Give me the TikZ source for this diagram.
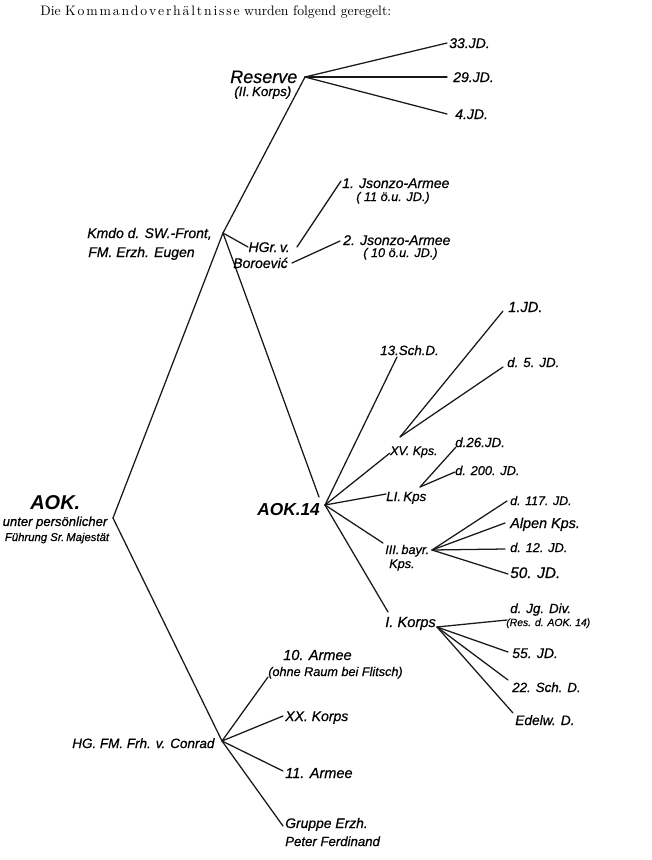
\documentclass[tikz,border=0pt]{standalone}
\usepackage{fontspec}
\newfontfamily\lett{Liberation Sans}[ItalicFeatures={FakeBold=0.6}]
\newcommand\myks{\kern1.35pt}
\tikzset{
  lb/.style={inner sep=0pt, anchor=base west, font=\lett\itshape\fontsize{#1}{#1}\selectfont},
  lbe/.style={inner sep=0pt, anchor=base east, font=\lett\itshape\fontsize{#1}{#1}\selectfont},
  lbc/.style={inner sep=0pt, anchor=base, font=\lett\itshape\fontsize{#1}{#1}\selectfont},
  bb/.style={inner sep=0pt, anchor=base west, font=\lett\bfseries\itshape\fontsize{#1}{#1}\selectfont},
  conn/.style={line width=0.95pt, line cap=round, draw=black!90},
}
\begin{document}
\begin{tikzpicture}[x=0.75pt,y=-0.75pt]
\useasboundingbox (0,0) rectangle (652,860);

% title
\node[inner sep=0pt, anchor=base west, font=\fontsize{10.3}{12}\selectfont] (title) at (40,15)
  {Die K\myks o\myks m\myks m\myks a\myks n\myks d\myks o\myks v\myks e\myks r\myks h\myks ä\myks l\myks t\myks n\myks i\myks s\myks s\myks e wurden folgend geregelt:};

% ---------- hubs and line ends ----------
\coordinate (aok) at (113,518);
\coordinate (kmdo) at (223,233);
\coordinate (res) at (305,77);
\coordinate (e33) at (447,43);
\coordinate (e29) at (447,77);
\coordinate (e4) at (447,114);
\coordinate (ehgr) at (248,247);
\coordinate (hgrA) at (297,247);
\coordinate (e1j) at (341,181);
\coordinate (hgrB) at (292,263);
\coordinate (e2j) at (340,241);
\coordinate (e14) at (319,497);
\coordinate (a14) at (325,505);
\coordinate (e13) at (397,357);
\coordinate (eXV) at (390,453);
\coordinate (eLI) at (386,494);
\coordinate (eIII) at (383,543);
\coordinate (eI) at (388,612);
\coordinate (xv) at (400,437);
\coordinate (e1jd) at (503,311);
\coordinate (e5jd) at (503,367);
\coordinate (li) at (420,487);
\coordinate (e26) at (456,447);
\coordinate (e200) at (455,472);
\coordinate (iii) at (432,550);
\coordinate (e117) at (507,501);
\coordinate (ealp) at (505,523);
\coordinate (e12) at (505,549);
\coordinate (e50) at (508,574);
\coordinate (ik) at (437,627);
\coordinate (ejg) at (507,620);
\coordinate (e55) at (508,652);
\coordinate (e22) at (508,680);
\coordinate (eed) at (513,713);
\coordinate (conrad) at (222,741);
\coordinate (e10) at (268,677);
\coordinate (exx) at (283,716);
\coordinate (e11) at (283,771);
\coordinate (egr) at (283,826);

% ---------- connectors ----------
\draw[conn] (aok) -- (kmdo) -- (res);
\draw[conn] (res) -- (e33);
\draw[conn] (res) -- (e29);
\draw[conn] (res) -- (e4);
\draw[conn] (kmdo) -- (ehgr);
\draw[conn] (hgrA) -- (e1j);
\draw[conn] (hgrB) -- (e2j);
\draw[conn] (kmdo) -- (e14);
\draw[conn] (a14) -- (e13);
\draw[conn] (a14) -- (eXV);
\draw[conn] (a14) -- (eLI);
\draw[conn] (a14) -- (eIII);
\draw[conn] (a14) -- (eI);
\draw[conn] (xv) -- (e1jd);
\draw[conn] (xv) -- (e5jd);
\draw[conn] (li) -- (e26);
\draw[conn] (li) -- (e200);
\draw[conn] (iii) -- (e117);
\draw[conn] (iii) -- (ealp);
\draw[conn] (iii) -- (e12);
\draw[conn] (iii) -- (e50);
\draw[conn] (ik) -- (ejg);
\draw[conn] (ik) -- (e55);
\draw[conn] (ik) -- (e22);
\draw[conn] (ik) -- (eed);
\draw[conn] (aok) -- (conrad);
\draw[conn] (conrad) -- (e10);
\draw[conn] (conrad) -- (exx);
\draw[conn] (conrad) -- (e11);
\draw[conn] (conrad) -- (egr);

% ---------- labels ----------
\node[lb=13.5] (tres) at (230,83) {Reserve};
\node[lb=10] (tresk) at (234,96) {(II.\,Korps)};
\node[lb=10.5] (t33) at (449,48) {33.JD.};
\node[lb=10.5] (t29) at (453,82) {29.JD.};
\node[lb=10.5] (t4) at (455,119) {4.JD.};

\node[lb=10.5] (tkmdo1) at (87,238) {Kmdo d. SW.-Front,};
\node[lb=10.5] (tkmdo2) at (88,257) {FM. Erzh. Eugen};

\node[lbe=10.5] (thgr1) at (290,252) {HGr.\,v.};
\node[lbe=10.5] (thgr2) at (288,268) {Boroević};

\node[lb=10.5] (tj1) at (342,188) {1. Jsonzo-Armee};
\node[lb=9.5] (tj1b) at (356,201) {( 11 ö.u. JD.)};
\node[lb=10.5] (tj2) at (343,245) {2. Jsonzo-Armee};
\node[lb=9.5] (tj2b) at (363,257) {( 10 ö.u. JD.)};

\node[bb=15] (taok) at (30,509) {AOK.};
\node[lbc=9.8] (taok2) at (55,526) {unter persönlicher};
\node[lbc=8.5] (taok3) at (57,541) {Führung Sr.\,Majestät};

\node[bb=13] (t14) at (257,515) {AOK.14};
\node[lb=10] (t13) at (380,355) {13.Sch.D.};
\node[lb=11] (t1jd) at (508,312) {1.JD.};
\node[lb=10] (t5jd) at (507,367) {d. 5. JD.};
\node[lb=9.3] (txv) at (390,455) {XV. Kps.};
\node[lb=10] (t26) at (455,447) {d.26.JD.};
\node[lb=9.6] (t200) at (455,475) {d. 200. JD.};
\node[lb=10] (tli) at (386,501) {LI.\,Kps};
\node[lb=9.5] (tiii1) at (385,554) {III.\,bayr.};
\node[lb=9.5] (tiii2) at (389,568) {Kps.};
\node[lb=9.3] (t117) at (510,505) {d. 117. JD.};
\node[lb=10.8] (talp) at (510,528) {Alpen Kps.};
\node[lb=9.6] (t12) at (510,552) {d. 12. JD.};
\node[lb=11.5] (t50) at (510,578) {50. JD.};
\node[lb=11] (tik) at (385,627) {I. Korps};
\node[lb=10] (tjg) at (510,613) {d. Jg. Div.};
\node[lb=7.8] (tjg2) at (506,626) {(Res. d. AOK. 14)};
\node[lb=10.5] (t55) at (512,658) {55. JD.};
\node[lb=10] (t22) at (512,692) {22. Sch. D.};
\node[lb=10.3] (ted) at (515,725) {Edelw. D.};

\node[lb=10.1] (tcon) at (72,748) {HG. FM. Frh. v. Conrad};
\node[lb=10.9] (t10) at (283,660) {10. Armee};
\node[lb=9.5] (t10b) at (268,676) {(ohne Raum bei Flitsch)};
\node[lb=10.5] (txx) at (285,721) {XX. Korps};
\node[lb=10.9] (t11) at (285,778) {11. Armee};
\node[lb=10.4] (tgr1) at (285,828) {Gruppe Erzh.};
\node[lb=9.9] (tgr2) at (285,846) {Peter Ferdinand};
\end{tikzpicture}
\end{document}
